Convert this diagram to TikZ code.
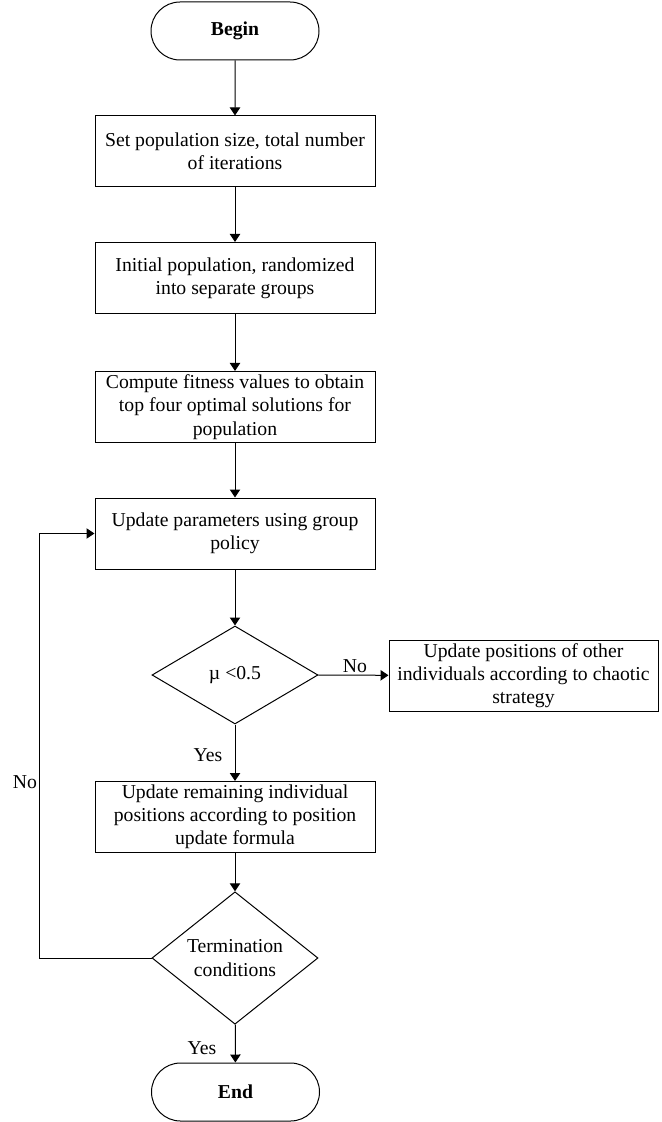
\documentclass[tikz,border=0pt]{standalone}
\usepackage{fontspec}
\setmainfont{Liberation Serif}
\usepackage{tikz}
\usetikzlibrary{arrows.meta}
\usetikzlibrary{shapes.geometric}
\usetikzlibrary{shapes.misc}

\begin{document}
\begin{tikzpicture}[x=0.5pt,y=-0.5pt,line width=0.5pt,
    every node/.style={font=\fontsize{9.85pt}{11.6pt}\selectfont,inner sep=0pt},
    box/.style={draw,rectangle,minimum width=140pt,minimum height=35.5pt,align=center},
    terminal/.style={draw,rounded rectangle,minimum width=84pt,minimum height=29pt,font=\fontsize{9.85pt}{11.6pt}\selectfont\bfseries},
    decision/.style={draw,diamond,minimum width=83pt,minimum height=49pt,align=center},
    flow/.style={-{Triangle[width=5.2pt,length=4pt]}}]
    \useasboundingbox (0,0) rectangle (661,1122);

    \node[terminal] (begin) at (235,31) {Begin};
    \node[box] (setsize) at (235,151.5) {Set population size, total number\\of iterations};
    \node[box] (init) at (235,278) {Initial population, randomized\\into separate groups};
    \node[box] (fitness) at (235,407) {Compute fitness values to obtain\\top four optimal solutions for\\population};
    \node[box] (params) at (235,533.5) {Update parameters using group\\policy};
    \node[decision] (mu) at (235,675) {µ <0.5};
    \node[box,minimum width=134.5pt] (chaotic) at (523.5,675.5) {Update positions of other\\individuals according to chaotic\\strategy};
    \node[box] (remain) at (235,817) {Update remaining individual\\positions according to position\\update formula};
    \node[decision] (term) at (235,958) {Termination\\conditions};
    \node[terminal] (end) at (235.5,1092) {End};

    \coordinate (loop) at (39,958);

    \draw[flow] (begin) -- (setsize);
    \draw[flow] (setsize) -- (init);
    \draw[flow] (init) -- (fitness);
    \draw[flow] (fitness) -- (params);
    \draw[flow] (params) -- (mu);
    \draw[flow] (mu) -- (chaotic);
    \draw[flow] (mu) -- (remain);
    \draw[flow] (remain) -- (term);
    \draw[flow] (term) -- (end);
    \draw[flow] (term.west) -- (loop) |- (params.west);

    \node (nochaos) at (355,666) {No};
    \node (yesmu) at (208,755) {Yes};
    \node (noloop) at (25,782) {No};
    \node (yesend) at (202,1048) {Yes};
\end{tikzpicture}
\end{document}
